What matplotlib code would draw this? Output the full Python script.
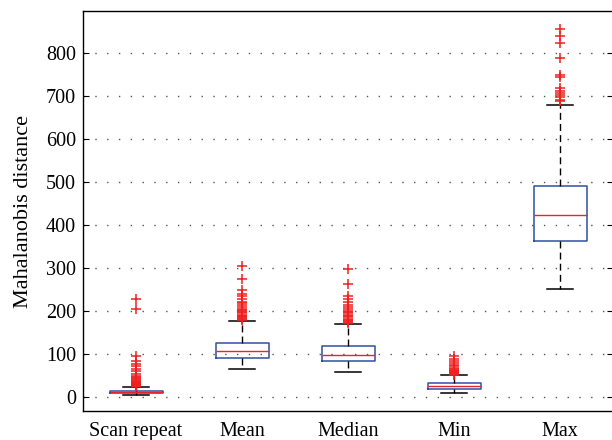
import matplotlib
matplotlib.use('Agg')
import matplotlib.pyplot as plt

# --- data ---
labels = ['Scan repeat', 'Mean', 'Median', 'Min', 'Max']

q1 = [10, 92, 84, 19, 364]
med = [12, 108, 98, 25, 423]
q3 = [15, 126, 118, 32, 492]
whislo = [6, 65, 58, 9, 252]
whishi = [24, 177, 170, 51, 680]

fliers_scan = [25, 26, 27, 28, 29, 30, 31, 32, 33, 34, 35, 36, 38, 40, 42, 44, 47, 50,
               55, 60, 65, 72, 78, 85, 97, 204, 228]
fliers_mean = [180, 182, 184, 186, 188, 190, 192, 195, 198, 200, 203, 206, 210, 214,
               218, 222, 228, 235, 240, 250, 275, 304]
fliers_median = [172, 175, 178, 180, 183, 186, 189, 192, 195, 198, 200, 205, 210, 215,
                 222, 228, 236, 263, 297]
fliers_min = [52, 54, 55, 56, 57, 58, 59, 60, 61, 62, 63, 65, 68, 72, 76, 80, 85, 90, 96]
fliers_max = [688, 692, 697, 702, 707, 712, 720, 745, 750, 788, 824, 840, 856]

fliers = [fliers_scan, fliers_mean, fliers_median, fliers_min, fliers_max]

yticks = [0, 100, 200, 300, 400, 500, 600, 700, 800]

plt.rcParams['font.family'] = ['Liberation Serif', 'DejaVu Serif']

stats = []
for i in range(len(labels)):
    stats.append(dict(label=labels[i], q1=q1[i], med=med[i], q3=q3[i],
                      whislo=whislo[i], whishi=whishi[i], fliers=fliers[i]))

fig = plt.figure(figsize=(6.12, 4.4), dpi=100)
ax = fig.add_axes([83 / 612, 29 / 440, 530 / 612, 400 / 440])

ax.bxp(stats, positions=range(1, 6), widths=0.5, showfliers=True,
       boxprops=dict(color='#2f4fa5', linewidth=1.1),
       medianprops=dict(color='#e8242a', linewidth=1.0),
       whiskerprops=dict(color='black', linewidth=1.0, linestyle=(0, (5, 3))),
       capprops=dict(color='black', linewidth=1.1),
       capwidths=0.25,
       flierprops=dict(marker='+', markeredgecolor='#ee2020', markersize=6.5,
                       markeredgewidth=1.1, linestyle='none'))

ax.set_xlim(0.5, 5.5)
ax.set_ylim(-32, 898)
ax.set_yticks(yticks)
ax.yaxis.grid(True, color='#555555', linestyle=(0, (1, 7.5)), linewidth=1.0)
ax.set_axisbelow(True)
ax.tick_params(axis='y', direction='in', length=4, labelsize=14.5, right=True,
               width=0.8, pad=5)
ax.tick_params(axis='x', length=0, labelsize=14.5, pad=8)
ax.set_ylabel('Mahalanobis distance', fontsize=16, labelpad=9)
for s in ax.spines.values():
    s.set_linewidth(1.0)

fig.savefig('out.png', dpi=100)
